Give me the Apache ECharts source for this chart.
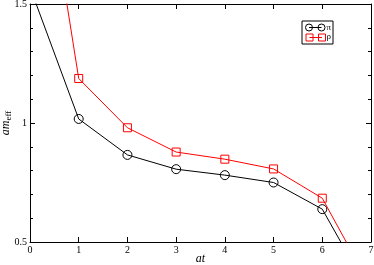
<!DOCTYPE html>
<html><head><meta charset="utf-8">
<script src="https://cdn.jsdelivr.net/npm/echarts@6/dist/echarts.min.js"></script>
<style>html,body{margin:0;padding:0;background:#fff}#c{width:374px;height:265px}</style>
</head><body><div id="c"></div>
<script>
var xValues = [0, 1, 2, 3, 4, 5, 6, 7];
var piValues = [1.57, 1.017, 0.866, 0.806, 0.781, 0.750, 0.638, 0.275];
var rhoValues = [2.48, 1.187, 0.980, 0.878, 0.848, 0.807, 0.684, 0.31];
var seriesNames = ['π', 'ρ'];
var xTitle = 'at';

var chart = echarts.init(document.getElementById('c'), null, {renderer: 'canvas'});
var font = 'Liberation Serif';
function pairs(v){ return xValues.map(function(x,i){ return [x, v[i]]; }); }
var axisCommon = {
  axisLine: {show: true, onZero: false, lineStyle: {color: '#000', width: 1}},
  axisTick: {show: true, inside: true, length: 5, lineStyle: {color: '#000'}},
  splitLine: {show: false}
};
chart.setOption({
  animation: false,
  grid: {left: 30, right: 3, top: 4, bottom: 23, containLabel: false, outerBoundsMode: 'none'},
  xAxis: [
    Object.assign({type: 'value', min: 0, max: 7, interval: 1, position: 'bottom',
      axisLabel: {fontFamily: font, fontSize: 10, color: '#000', margin: 3},
      name: xTitle, nameLocation: 'middle', nameGap: 11, nameMoveOverlap: false,
      nameTextStyle: {fontFamily: font, fontSize: 12, fontStyle: 'italic', color: '#000'}}, axisCommon),
    Object.assign({type: 'value', min: 0, max: 7, interval: 1, position: 'top',
      axisLabel: {show: false}}, axisCommon)
  ],
  yAxis: [
    Object.assign({type: 'value', min: 0.5, max: 1.5, interval: 0.5, position: 'left',
      minorTick: {show: true, splitNumber: 5, length: 3, lineStyle: {color: '#000'}},
      axisLabel: {fontFamily: font, fontSize: 10, color: '#000', margin: 3},
      name: '{i|am}{s|eff}', nameLocation: 'middle', nameGap: 17, nameRotate: 90, nameMoveOverlap: false,
      nameTextStyle: {rich: {
        i: {fontFamily: font, fontSize: 12, fontStyle: 'italic', color: '#000'},
        s: {fontFamily: font, fontSize: 9, color: '#000', verticalAlign: 'bottom', padding: [6, 0, 0, 0]}
      }}}, axisCommon),
    Object.assign({type: 'value', min: 0.5, max: 1.5, interval: 0.5, position: 'right',
      minorTick: {show: true, splitNumber: 5, length: 3, lineStyle: {color: '#000'}},
      axisLabel: {show: false}}, axisCommon)
  ],
  series: [
    {name: seriesNames[0], type: 'line', data: pairs(piValues), symbol: 'circle', symbolSize: 9,
      lineStyle: {color: '#000', width: 1},
      itemStyle: {color: 'rgba(0,0,0,0)', borderColor: '#000', borderWidth: 1}, z: 2},
    {name: seriesNames[1], type: 'line', data: pairs(rhoValues), symbol: 'rect', symbolSize: 8,
      lineStyle: {color: '#ff0000', width: 1},
      itemStyle: {color: 'rgba(0,0,0,0)', borderColor: '#ff0000', borderWidth: 1}, z: 3}
  ],
  graphic: [
    {type: 'rect', shape: {x: 302, y: 21, width: 31, height: 23}, style: {fill: '#fff', stroke: '#000', lineWidth: 1}, z: 10},
    {type: 'line', shape: {x1: 309, y1: 27.5, x2: 321.5, y2: 27.5}, style: {stroke: '#000', lineWidth: 1}, z: 11},
    {type: 'circle', shape: {cx: 309, cy: 27.5, r: 3.5}, style: {fill: 'none', stroke: '#000', lineWidth: 1}, z: 11},
    {type: 'circle', shape: {cx: 321.5, cy: 27.5, r: 3.5}, style: {fill: 'none', stroke: '#000', lineWidth: 1}, z: 11},
    {type: 'text', x: 326.5, y: 23, style: {text: seriesNames[0], font: '9px "Liberation Serif"', fill: '#000'}, z: 11},
    {type: 'line', shape: {x1: 309.5, y1: 37.5, x2: 322, y2: 37.5}, style: {stroke: '#ff0000', lineWidth: 1}, z: 11},
    {type: 'rect', shape: {x: 306, y: 34, width: 7, height: 7}, style: {fill: 'none', stroke: '#ff0000', lineWidth: 1}, z: 11},
    {type: 'rect', shape: {x: 318.5, y: 34, width: 7, height: 7}, style: {fill: 'none', stroke: '#ff0000', lineWidth: 1}, z: 11},
    {type: 'text', x: 326.5, y: 32.5, style: {text: seriesNames[1], font: '9px "Liberation Serif"', fill: '#000'}, z: 11}
  ]
});
</script></body></html>
